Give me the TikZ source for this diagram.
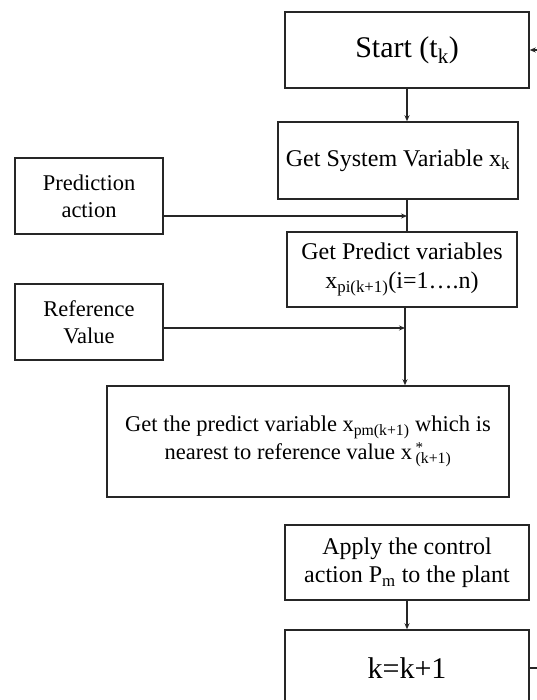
\documentclass[tikz,border=0pt]{standalone}
\usepackage{fontspec}
\setmainfont{Liberation Serif}
\usetikzlibrary{arrows.meta}
\begin{document}
\begin{tikzpicture}[x=1pt,y=-1pt,
  box/.style={draw=black!85,line width=1.5pt,rectangle,inner sep=0pt,align=center,
    font=\fontsize{22.5}{27}\selectfont},
  bigfont/.style={font=\fontsize{24}{28.5}\selectfont},
  hugefont/.style={font=\fontsize{30}{34}\selectfont},
  conn/.style={line width=1.1pt,draw=black!85},
  arr/.style={conn,-{Stealth[length=6pt,width=5pt]}}]
\useasboundingbox (0,0) rectangle (537,700);
\clip (0,0) rectangle (537,700);
\node[box,hugefont,minimum width=244pt,minimum height=76pt] (start) at (407,50) {Start (t\textsubscript{k})};
\node[box,bigfont,minimum width=240pt,minimum height=77pt] (sys) at (398,160.5) {Get System Variable x\textsubscript{k}};
\node[box,minimum width=148pt,minimum height=76pt] (pred) at (89,196) {Prediction\\action};
\node[box,bigfont,minimum width=230pt,minimum height=75pt] (gp) at (402,269.5) {Get Predict variables\\x\textsubscript{pi(k+1)}(i=1….n)};
\node[box,minimum width=148pt,minimum height=76pt] (ref) at (89,322) {Reference\\Value};
\node[box,minimum width=402pt,minimum height=111pt] (near) at (308,441.5) {Get the predict variable x\textsubscript{pm(k+1)} which is\\[1pt]nearest to reference value x\,\rlap{\raisebox{0.7ex}{\fontsize{15}{15}\selectfont *}}\textsubscript{(k+1)}};
\node[box,bigfont,minimum width=244pt,minimum height=75pt] (apply) at (407,562.5) {Apply the control\\action P\textsubscript{m} to the plant};
\node[box,hugefont,minimum width=244pt,minimum height=76pt] (kk) at (407,668) {k=k+1};
\coordinate (j1) at (407,216);
\coordinate (j2) at (405,328);
\coordinate (rt) at (560,0);
\draw[arr] (start.south) -- (start.south |- sys.north);
\draw[conn] (sys.south -| j1) -- (gp.north -| j1);
\draw[arr] (pred.east |- j1) -- (j1);
\draw[arr] (gp.south -| j2) -- (near.north -| j2);
\draw[arr] (ref.east |- j2) -- (j2);
\draw[arr] (apply.south) -- (kk.north);
\draw[arr] (kk.east) -- (kk.east -| rt) -- (start.east -| rt) -- (start.east);
\end{tikzpicture}
\end{document}
